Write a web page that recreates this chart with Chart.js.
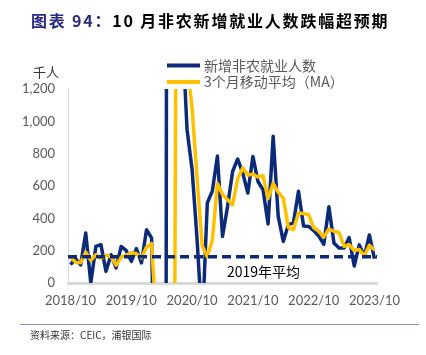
<!DOCTYPE html>
<html><head><meta charset="utf-8">
<script src="https://cdn.jsdelivr.net/npm/chart.js@4/dist/chart.umd.min.js"></script>
<style>
html,body{margin:0;padding:0;background:#fff;}
#wrap{position:relative;width:426px;height:355px;overflow:hidden;background:#fff;}
#c{position:absolute;left:0;top:0;}
#title{position:absolute;left:31px;top:9px;font-weight:bold;font-size:16px;font-family:"Noto Sans CJK SC";white-space:nowrap;letter-spacing:1.8px;color:#000;line-height:22px;}
#title .n{color:#2a2a85;}
#rule{position:absolute;left:20px;top:324px;width:399px;height:1px;background:#8c88c6;}
#src{position:absolute;left:30px;top:328px;font-size:10px;font-family:"Noto Sans CJK SC";color:#333;white-space:nowrap;line-height:14px;}
</style></head>
<body><div id="wrap">
<canvas id="c" width="426" height="355"></canvas>
<div id="title"><span class="n">图表 94：</span>10 月非农新增就业人数跌幅超预期</div>
<div id="rule"></div>
<div id="src">资料来源：CEIC，浦银国际</div>
</div>
<script>
const months = ['2018/10','2018/11','2018/12',
'2019/01','2019/02','2019/03','2019/04','2019/05','2019/06','2019/07','2019/08','2019/09','2019/10','2019/11','2019/12',
'2020/01','2020/02','2020/03','2020/04','2020/05','2020/06','2020/07','2020/08','2020/09','2020/10','2020/11','2020/12',
'2021/01','2021/02','2021/03','2021/04','2021/05','2021/06','2021/07','2021/08','2021/09','2021/10','2021/11','2021/12',
'2022/01','2022/02','2022/03','2022/04','2022/05','2022/06','2022/07','2022/08','2022/09','2022/10','2022/11','2022/12',
'2023/01','2023/02','2023/03','2023/04','2023/05','2023/06','2023/07','2023/08','2023/09','2023/10'];

const payrolls = [113,150,112,
309,1,226,237,72,175,93,226,200,134,213,124,
330,278,-1400,-20500,2800,4600,1550,1600,950,700,260,-270,
495,570,785,288,474,690,767,680,557,783,628,577,
365,907,412,257,361,372,567,352,350,324,290,239,
472,248,217,217,281,105,236,165,297,150];

const ma3 = [160,128,125,
190,141,175,152,172,162,110,160,172,187,182,155,
222,244,-264,-7200,-6370,-4370,2980,2580,1370,1080,640,230,
162,264,615,548,515,484,644,712,668,673,656,663,
523,616,561,525,343,330,433,430,423,342,321,284,
334,320,312,227,238,201,207,169,233,204];

const avg2019 = 163;
const yTicks = [0,200,400,600,800,1000,1200];
const seriesNames = ['新增非农就业人数','3个月移动平均（MA）'];
const avgLabel = '2019年平均';
const unitLabel = '千人';

const NAVY = '#0b2a78';
const GOLD = '#ffc000';

const overlay = {
  id:'overlay',
  afterDatasetsDraw(c){
    const ctx=c.ctx, a=c.chartArea, y=c.scales.y;
    const py=y.getPixelForValue(avg2019);
    ctx.save();
    ctx.strokeStyle=NAVY; ctx.lineWidth=3.5; ctx.setLineDash([9,5]); ctx.lineCap='butt';
    ctx.beginPath(); ctx.moveTo(a.left,py); ctx.lineTo(a.right,py); ctx.stroke();
    ctx.setLineDash([]);
    ctx.fillStyle='#000'; ctx.font='14px "Noto Sans CJK SC"'; ctx.textBaseline='middle'; ctx.textAlign='left';
    ctx.fillText(avgLabel, 227, py+15);
    const rows=[[NAVY,65.5],[GOLD,82]];
    rows.forEach((r,i)=>{
      ctx.strokeStyle=r[0]; ctx.lineWidth=4; ctx.beginPath(); ctx.moveTo(167,r[1]); ctx.lineTo(200,r[1]); ctx.stroke();
      ctx.fillStyle='#595959'; ctx.font='14px "Noto Sans CJK SC"'; ctx.fillText(seriesNames[i], 204, r[1]);
    });
    ctx.fillStyle='#333'; ctx.font='13px "Noto Sans CJK SC"'; ctx.fillText(unitLabel, 33, 72.5);
    ctx.restore();
  }
};

new Chart(document.getElementById('c'), {
  type:'line',
  data:{labels:months, datasets:[
    {label:seriesNames[0], data:payrolls, borderColor:NAVY, backgroundColor:NAVY, borderWidth:3.5, pointRadius:0, tension:0, order:2, borderJoinStyle:'round'},
    {label:seriesNames[1], data:ma3, borderColor:GOLD, backgroundColor:GOLD, borderWidth:3.5, pointRadius:0, tension:0, order:1, borderJoinStyle:'round'}
  ]},
  options:{
    responsive:false, animation:false, devicePixelRatio:1,
    layout:{padding:{left:0,right:49,top:89,bottom:32}},
    plugins:{legend:{display:false}, tooltip:{enabled:false}, title:{display:false}},
    scales:{
      x:{type:'category', offset:true,
        grid:{display:false, drawTicks:false},
        border:{color:'#d9d9d9', width:3},
        ticks:{autoSkip:false, maxRotation:0, minRotation:0, padding:10, color:'#595959',
          font:{family:'Lato', size:13},
          callback:function(v){const l=this.getLabelForValue(v); return l.endsWith('/10')?l:'';}},
        afterFit:(s)=>{s.height=40;}},
      y:{min:0, max:1200,
        afterBuildTicks:(s)=>{s.ticks=yTicks.map(v=>({value:v}));},
        ticks:{padding:13, color:'#595959', font:{family:'Lato', size:13},
          callback:(v)=>Number(v).toLocaleString('en-US')},
        grid:{display:false, drawTicks:false},
        border:{color:'#d9d9d9', width:1},
        afterFit:(s)=>{s.width=68;}}
    }
  },
  plugins:[overlay]
});
</script>
</body></html>
